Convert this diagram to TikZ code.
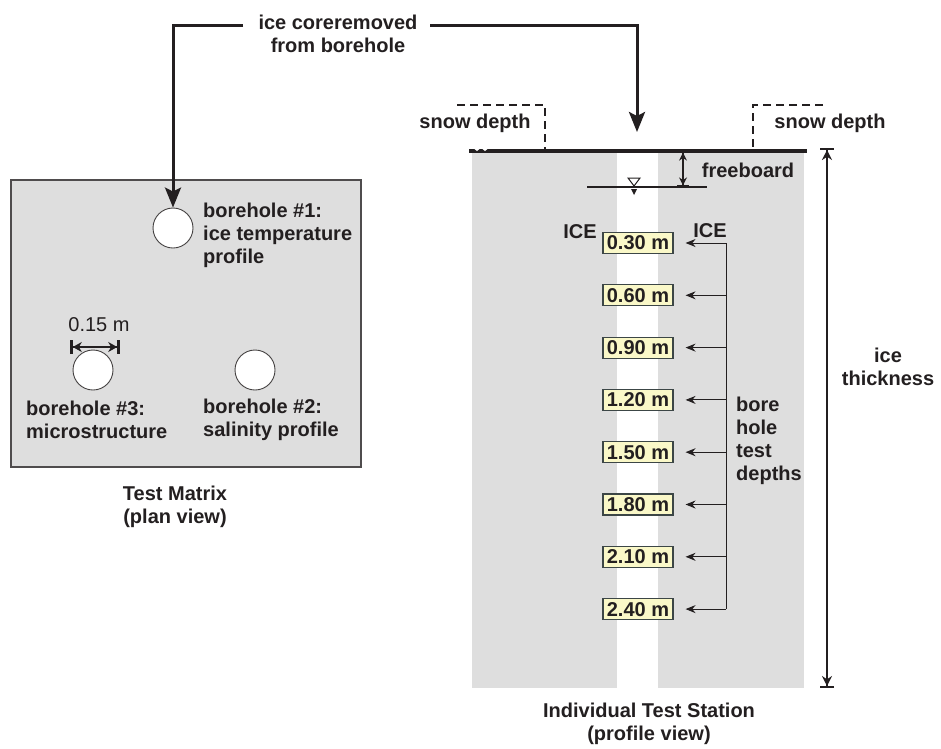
\documentclass[tikz,border=0pt]{standalone}
\usepackage{fontspec}
\setmainfont{Liberation Sans}
\usetikzlibrary{arrows.meta,calc}
\definecolor{icegray}{RGB}{222,222,222}
\definecolor{boxyellow}{RGB}{250,248,200}
\definecolor{boxedge}{RGB}{60,70,70}
\definecolor{ink}{RGB}{35,31,32}
\begin{document}
\begin{tikzpicture}[x=1pt,y=-1pt,
  txt/.style={font=\fontsize{20}{23}\selectfont\bfseries, text=ink, inner sep=0pt, align=center},
  txtl/.style={txt, align=left},
  hole/.style={circle, draw=ink!85, fill=white, minimum size=40pt, inner sep=0pt, line width=0.9pt},
  conn/.style={draw=ink, line width=3pt, -{Stealth[length=20pt,width=16pt,inset=4pt]}},
  snowline/.style={draw=ink, line width=2pt, dash pattern=on 8pt off 5pt},
  dimline/.style={draw=ink, line width=1.6pt, arrows={{Bar[width=12pt,line width=1.6pt]Stealth[length=8pt,width=8pt]}-{Stealth[length=8pt,width=8pt]Bar[width=12pt,line width=1.6pt]}}},
  dimbold/.style={draw=ink, line width=2.5pt, arrows={{Bar[width=14pt,line width=2.8pt]Stealth[length=9pt,width=10pt]}-{Stealth[length=9pt,width=10pt]Bar[width=14pt,line width=2.8pt]}}},
  dimthick/.style={draw=ink, line width=2.5pt, arrows={{Bar[width=14pt,line width=2pt]Stealth[length=10pt,width=10pt]}-{Stealth[length=10pt,width=10pt]Bar[width=14pt,line width=2pt]}}},
  depthbox/.style={draw=boxedge, fill=boxyellow, line width=1.1pt, minimum width=70pt, minimum height=21pt, inner sep=0pt, font=\fontsize{20}{23}\selectfont\bfseries, text=ink},
  deptharrow/.style={draw=ink, line width=1pt, -{Stealth[length=10pt,width=8pt]}, shorten >=12pt}
]
\useasboundingbox (0,0) rectangle (941,748);

% ---------- plan view ----------
\filldraw[fill=icegray, draw=ink!80, line width=1.3pt] (11,180) rectangle (361,467);
\node[hole] (b1) at (173,228) {};
\node[hole] (b2) at (255,370) {};
\node[hole] (b3) at (93,370) {};
\node[txtl, anchor=west] (l1) at (203,235) {borehole \#1:\\ice temperature\\profile};
\node[txtl, anchor=west] (l3) at (26,420) {borehole \#3:\\microstructure};
\node[txtl, anchor=west] (l2) at (203,420) {borehole \#2:\\salinity profile};
\node[txt, font=\fontsize{20}{23}\selectfont] (dia) at (99,325) {0.15 m};
\coordinate (da) at (70,347);
\coordinate (db) at (120,347);
\draw[dimbold] (da) -- (db);
\node[txt] (tm) at (175,507) {Test Matrix\\(plan view)};

% ---------- top label and connectors ----------
\node[txt] (core) at (338,34) {ice coreremoved\\from borehole};
\coordinate (tl) at (243,25);
\coordinate (tr) at (430,25);
\coordinate (holetop) at (637,132);
\draw[conn] (tl) -| (b1.north);
\draw[conn] (tr) -| (holetop);

% ---------- profile view ----------
\fill[icegray] (472,152) rectangle (617,688);
\fill[icegray] (658,152) rectangle (804,688);
\draw[ink, line width=4.5pt] (469,151) -- (807,151);
\foreach \xx in {477,485}
  \fill[white] (\xx-3,148.6) -- (\xx+3,148.6) -- (\xx,151) -- cycle;

\draw[snowline] (457,105) -- (545,105) -- (545,151);
\draw[snowline] (823,105) -- (753,105) -- (753,151);
\node[txt] (sd1) at (475,123) {snow depth};
\node[txt] (sd2) at (830,123) {snow depth};

% freeboard
\coordinate (fbt) at (683,151);
\coordinate (fbb) at (683,187);
\draw[dimline] (fbt) -- (fbb);
\node[txt] (fb) at (748,170) {freeboard};

% water level
\draw[ink, line width=2pt] (587,187) -- (707,187);
\filldraw[draw=ink, fill=white, line width=1pt] (628,178) -- (640,178) -- (634,186) -- cycle;
\fill[ink] (631,189) -- (637,189) -- (634,195) -- cycle;

% ICE labels
\node[txt] (iceL) at (580,232) {ICE};
\node[txt] (iceR) at (710,231) {ICE};

% depth boxes and arrows
\foreach \i/\lab in {0/0.30,1/0.60,2/0.90,3/1.20,4/1.50,5/1.80,6/2.10,7/2.40} {
  \node[depthbox] (d\i) at (638,{243+52.3*\i}) {\lab\ m};
  \coordinate (v\i) at (726,{243+52.3*\i});
  \draw[deptharrow] (v\i) -- (d\i.east);
}
\draw[ink, line width=1pt] (v0) -- (v7);
\node[txtl, anchor=west] (bht) at (736,441) {bore\\hole\\test\\depths};

% ice thickness
\coordinate (itt) at (827,148);
\coordinate (itb) at (827,688);
\draw[dimthick] (itt) -- (itb);
\node[txt] (it) at (888,367) {ice\\thickness};

\node[txt] (its) at (649,724) {Individual Test Station\\(profile view)};
\end{tikzpicture}
\end{document}
